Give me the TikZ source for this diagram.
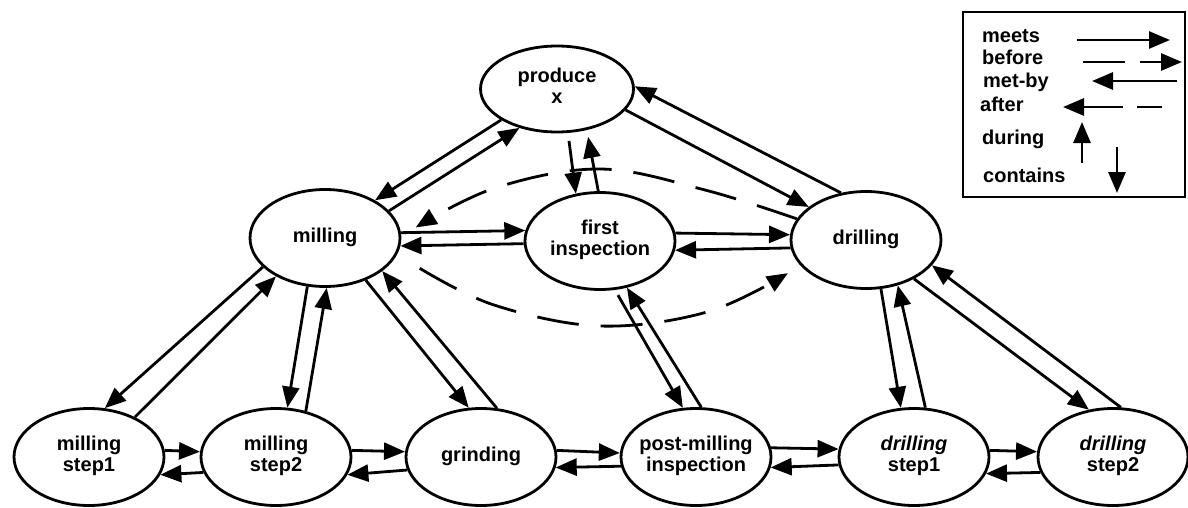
\documentclass[tikz,border=0pt]{standalone}
\usepackage{fontspec}
\setmainfont{Liberation Sans}
\usetikzlibrary{shapes.geometric,arrows.meta,calc}
\newcommand\ntxt[1]{\makebox[0pt]{\begin{tabular}{@{}c@{}}#1\end{tabular}}}
\begin{document}
\begin{tikzpicture}[x=1pt,y=-1pt,
  ell/.style={draw, ellipse, line width=2.8pt, minimum width=150pt, minimum height=97pt, inner sep=0pt,
    font=\fontsize{20}{21}\selectfont\bfseries},
  arr/.style={line width=2.8pt, -{Triangle[length=21pt,width=17pt]}},
  dsh/.style={arr, dash pattern=on 42pt off 22pt},
  lgd/.style={anchor=base west, inner sep=0pt, font=\fontsize{20}{21}\selectfont\bfseries}]
\useasboundingbox (0,0) rectangle (1188,508);
% nodes
\node[ell, minimum width=153pt, minimum height=86pt] (produce) at (557,89) {\ntxt{produce\\x}};
\node[ell] (milling) at (325,238) {\ntxt{milling}};
\node[ell] (first) at (600,241) {\ntxt{first\\inspection}};
\node[ell] (drilling) at (866,240) {\ntxt{drilling}};
\node[ell] (ms1) at (89,457) {\ntxt{milling\\step1}};
\node[ell] (ms2) at (276,457) {\ntxt{milling\\step2}};
\node[ell] (grind) at (481,457) {\ntxt{grinding}};
\node[ell] (post) at (696,457) {\ntxt{post-milling\\inspection}};
\node[ell] (ds1) at (914,457) {\ntxt{\textit{drilling}\\step1}};
\node[ell] (ds2) at (1113,457) {\ntxt{\textit{drilling}\\step2}};
% top connections
\draw[arr] (produce.209) -- (milling.37);
\draw[arr] (milling.23) -- (produce.226);
\draw[arr] (produce.343) -- (drilling.150);
\draw[arr] (drilling.118) -- (produce.2);
\draw[arr, shorten <=8pt] (produce.284) -- (first.117);
\draw[arr, shorten >=7pt] (first.92) -- (produce.306);
\draw[arr] (milling.4) -- (first.172);
\draw[arr] (first.182) -- (milling.354);
\draw[arr] (first.6) -- (drilling.176);
\draw[arr] (drilling.186) -- (first.353);
% dashed arcs
\draw[dsh] plot[smooth, tension=0.6] coordinates {(drilling.163) (705,190) (600,169) (495,188) ($(milling.8)+(16,0)$)};
\draw[dsh] plot[smooth, tension=0.6] coordinates {($(milling.340)+(28,6)$) (494,305) (600,326) (707,312) ($(drilling.203)+(-14,6)$)};
% down connections
\draw[arr] (milling.205) -- (ms1.72);
\draw[arr] (ms1.41) -- (milling.218);
\draw[arr] (milling.250) -- (ms2.77);
\draw[arr] (ms2.57) -- (milling.272);
\draw[arr] (milling.314) -- (grind.104);
\draw[arr] (grind.72) -- (milling.330);
\draw[arr, shorten <=6pt] (first.287) -- (post.105);
\draw[arr] (post.84) -- (first.300);
\draw[arr] (drilling.287) -- (ds1.105);
\draw[arr] (ds1.77) -- (drilling.305);
\draw[arr] (drilling.321) -- (ds2.117);
\draw[arr] (ds2.81) -- (drilling.339);
% bottom row
\draw[arr] (ms1.5) -- (ms2.176);
\draw[arr] (ms2.192) -- (ms1.346);
\draw[arr] (ms2.5) -- (grind.176);
\draw[arr] (grind.190) -- (ms2.346);
\draw[arr] (grind.5) -- (post.177);
\draw[arr] (post.187) -- (grind.352);
\draw[arr] (post.7) -- (ds1.174);
\draw[arr] (ds1.186) -- (post.352);
\draw[arr] (ds1.5) -- (ds2.176);
\draw[arr] (ds2.192) -- (ds1.347);
% legend
\draw[line width=2.2pt] (963,12) rectangle (1185,197);
\node[lgd] (lmeets) at (982,43) {meets};
\node[lgd] (lbefore) at (982,65) {before};
\node[lgd] (lmetby) at (983,88) {met-by};
\node[lgd] (lafter) at (980,112) {after};
\node[lgd] (lduring) at (982,145) {during};
\node[lgd] (lcontains) at (983,182) {contains};
\coordinate (a1) at (1077,40); \coordinate (a2) at (1170,40);
\coordinate (b1) at (1083,62); \coordinate (b2) at (1182,62);
\coordinate (c1) at (1177,81); \coordinate (c2) at (1092,81);
\coordinate (d1) at (1162,107); \coordinate (d2) at (1063,107);
\coordinate (e1) at (1082,163); \coordinate (e2) at (1082,122);
\coordinate (f1) at (1117,147); \coordinate (f2) at (1117,193);
\draw[arr] (a1) -- (a2);
\draw[arr, dash pattern=on 42pt off 15pt] (b1) -- (b2);
\draw[arr] (c1) -- (c2);
\draw[arr, dash pattern=on 25pt off 14pt on 60pt off 1pt] (d1) -- (d2);
\draw[arr] (e1) -- (e2);
\draw[arr] (f1) -- (f2);
\end{tikzpicture}
\end{document}
